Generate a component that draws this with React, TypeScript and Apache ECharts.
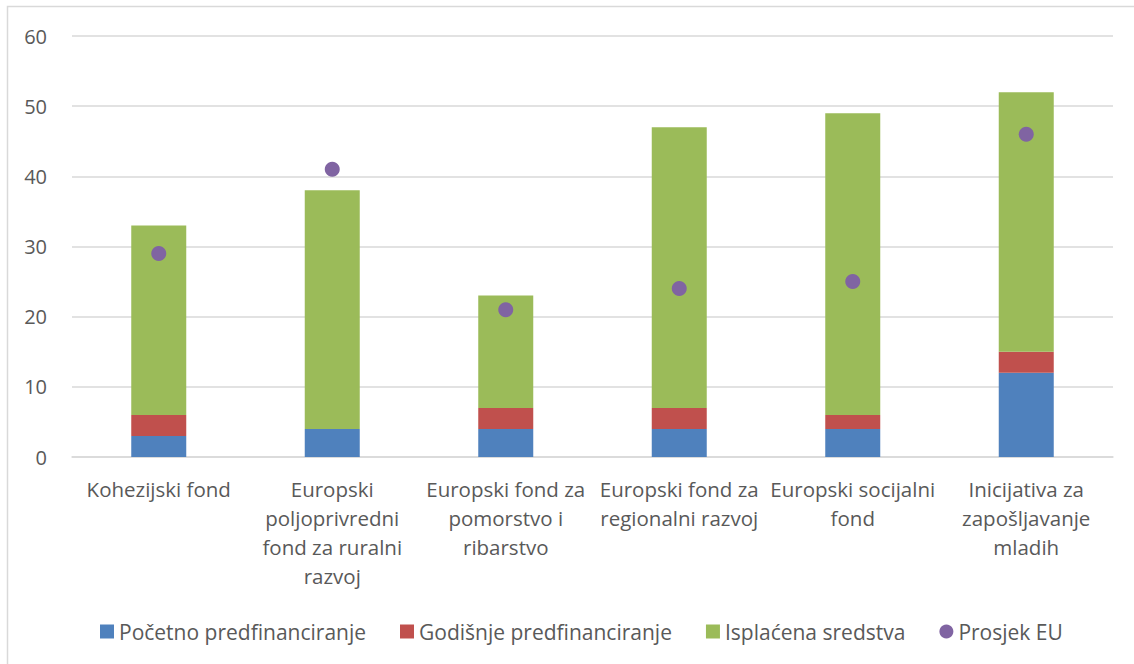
import React, { useEffect, useRef } from "react";
import * as echarts from "echarts";

const categories = [
  "Kohezijski fond",
  "Europski\npoljoprivredni\nfond za ruralni\nrazvoj",
  "Europski fond za\npomorstvo i\nribarstvo",
  "Europski fond za\nregionalni razvoj",
  "Europski socijalni\nfond",
  "Inicijativa za\nzapošljavanje\nmladih",
];
const pocetno = [3, 4, 4, 4, 4, 12];
const godisnje = [3, 0, 3, 3, 2, 3];
const isplacena = [27, 34, 16, 40, 43, 37];
const prosjekEU = [29, 41, 21, 24, 25, 46];
const seriesNames = [
  "Početno predfinanciranje",
  "Godišnje predfinanciranje",
  "Isplaćena sredstva",
  "Prosjek EU",
];

const FONT = "'Open Sans', 'Liberation Sans', sans-serif";
const TEXT = "#595959";

export default function App() {
  const ref = useRef<HTMLDivElement>(null);
  useEffect(() => {
    if (!ref.current) return;
    const chart = echarts.init(ref.current, undefined, { renderer: "svg" });
    chart.setOption({
      animation: false,
      backgroundColor: "#ffffff",
      textStyle: { fontFamily: FONT, color: TEXT },
      graphic: [
        {
          type: "rect",
          shape: { x: 7.5, y: 6.5, width: 1200, height: 700 },
          style: { fill: "none", stroke: "#d9d9d9", lineWidth: 1.5 },
          silent: true,
          z: -1,
        },
      ],
      grid: { left: 72, right: 21, top: 36, bottom: 207, containLabel: false },
      legend: {
        left: 95,
        top: 616,
        itemWidth: 14,
        itemHeight: 14,
        itemGap: 34,
        textStyle: { fontFamily: FONT, fontSize: 21, color: TEXT },
        data: [
          { name: seriesNames[0], icon: "rect" },
          { name: seriesNames[1], icon: "rect" },
          { name: seriesNames[2], icon: "rect" },
          { name: seriesNames[3], icon: "circle" },
        ],
      },
      xAxis: {
        type: "category",
        data: categories,
        axisLine: { show: true, lineStyle: { color: "#d9d9d9", width: 1.5 } },
        axisTick: { show: false },
        axisLabel: {
          interval: 0,
          margin: 17,
          fontFamily: FONT,
          fontSize: 20.5,
          color: TEXT,
          lineHeight: 29,
          align: "center",
        },
      },
      yAxis: {
        type: "value",
        min: 0,
        max: 60,
        interval: 10,
        axisLine: { show: false },
        axisTick: { show: false },
        splitLine: { lineStyle: { color: "#d9d9d9", width: 1.5 } },
        axisLabel: { margin: 25, fontFamily: FONT, fontSize: 20, color: TEXT },
      },
      series: [
        {
          name: seriesNames[0],
          type: "bar",
          stack: "s",
          barWidth: 55,
          itemStyle: { color: "#4f81bd" },
          data: pocetno,
        },
        {
          name: seriesNames[1],
          type: "bar",
          stack: "s",
          barWidth: 55,
          itemStyle: { color: "#c0504d" },
          data: godisnje,
        },
        {
          name: seriesNames[2],
          type: "bar",
          stack: "s",
          barWidth: 55,
          itemStyle: { color: "#9bbb59" },
          data: isplacena,
        },
        {
          name: seriesNames[3],
          type: "scatter",
          symbol: "circle",
          symbolSize: 15,
          itemStyle: { color: "#8064a2", opacity: 1 },
          data: prosjekEU,
          z: 5,
        },
      ],
    });
    return () => chart.dispose();
  }, []);
  return (
    <div
      ref={ref}
      style={{ position: "fixed", left: 0, top: 0, width: 1134, height: 664 }}
    />
  );
}
